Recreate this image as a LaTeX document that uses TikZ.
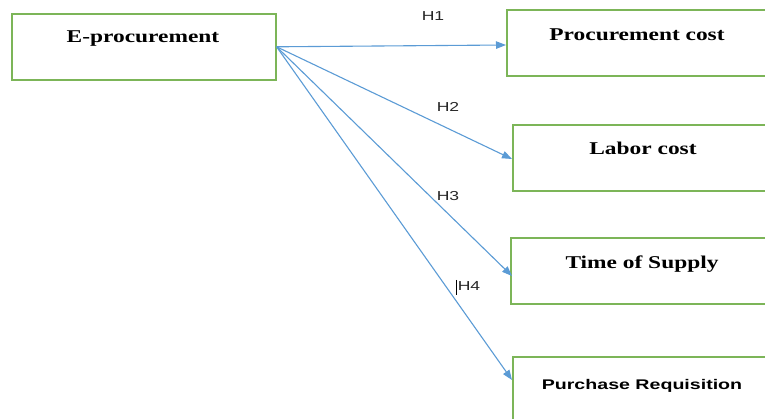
\documentclass[tikz,border=0pt]{standalone}
\usepackage{fontspec}
\setmainfont{Liberation Serif}
\newfontfamily\hsans{Liberation Sans}
\usetikzlibrary{arrows.meta}
\definecolor{boxgreen}{HTML}{7CB558}
\definecolor{arrowblue}{HTML}{5B9BD5}
\definecolor{labgray}{HTML}{262626}
\tikzset{
  boxshape/.style={draw=boxgreen, line width=1.6pt, minimum height=66pt, inner sep=0pt, anchor=north west},
  serifbold/.style={font=\fontsize{18}{20}\selectfont\bfseries, anchor=base, inner sep=0pt},
  sansbold/.style={font=\hsans\fontsize{14}{16}\selectfont\bfseries, anchor=base, inner sep=0pt},
  hlabel/.style={font=\hsans\fontsize{13}{15}\selectfont, text=labgray, anchor=base, inner sep=0pt},
  link/.style={draw=arrowblue, line width=1.1pt, -{Triangle[length=10pt,width=7.5pt]}}
}
\begin{document}
\begin{tikzpicture}[x=1pt,y=-1pt]
\useasboundingbox (0,0) rectangle (765,419);
\clip (0,0) rectangle (765,419);
% boxes
\node[boxshape, minimum width=264pt] (ep) at (11,13) {};
\node[boxshape, minimum width=300pt] (pc) at (506,9) {};
\node[boxshape, minimum width=300pt] (lc) at (512,124) {};
\node[boxshape, minimum width=300pt] (ts) at (510,237) {};
\node[boxshape, minimum width=300pt] (pr) at (512,356) {};
% texts
\node[serifbold] (tep) at (143,43) {\scalebox{1.3}[1]{E-procurement}};
\node[serifbold] (tpc) at (637,41) {\scalebox{1.3}[1]{Procurement cost}};
\node[serifbold] (tlc) at (643,155) {\scalebox{1.3}[1]{Labor cost}};
\node[serifbold] (tts) at (642,269) {\scalebox{1.3}[1]{Time of Supply}};
\node[sansbold] (tpr) at (642,389) {\scalebox{1.4}[1]{Purchase Requisition}};
% arrow ends
\coordinate (e1) at (506,45);
\coordinate (e2) at (512,159);
\coordinate (e3) at (512,276);
\coordinate (e4) at (512,380);
\draw[link] (ep.east) -- (e1);
\draw[link] (ep.east) -- (e2);
\draw[link] (ep.east) -- (e3);
\draw[link] (ep.east) -- (e4);
% labels
\node[hlabel] (h1) at (433,21) {\scalebox{1.35}[1]{H1}};
\node[hlabel] (h2) at (448,112) {\scalebox{1.35}[1]{H2}};
\node[hlabel] (h3) at (448,201) {\scalebox{1.35}[1]{H3}};
\node[hlabel] (h4) at (469,291) {\scalebox{1.35}[1]{H4}};
\coordinate (cur1) at (456,280);
\coordinate (cur2) at (456,295);
\draw[black, line width=1pt] (cur1) -- (cur2);
\end{tikzpicture}
\end{document}
